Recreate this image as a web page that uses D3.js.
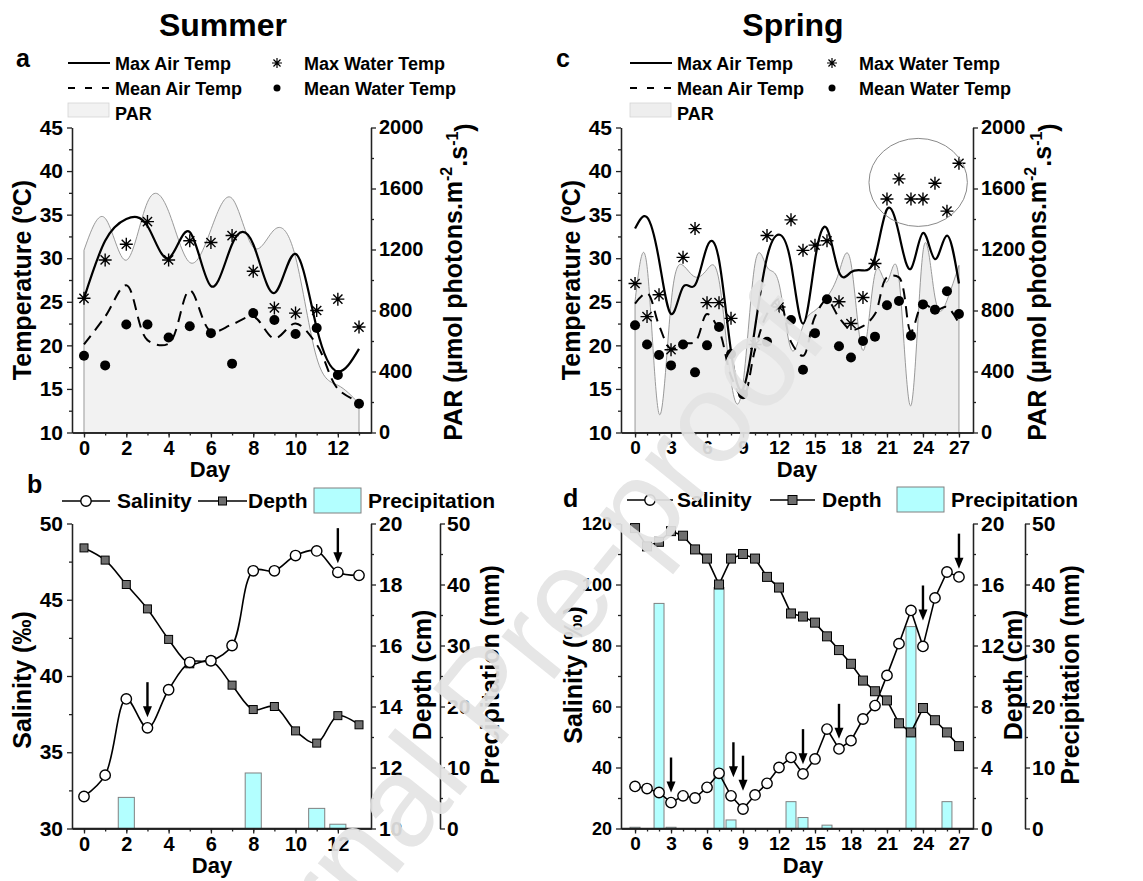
<!DOCTYPE html>
<html>
<head>
<meta charset="utf-8">
<script src="https://cdn.jsdelivr.net/npm/d3@7"></script>
<style>
  body { margin: 0; background: #fff; }
  svg text { font-family: "Liberation Sans", Arial, Helvetica, sans-serif; font-weight: bold; }
</style>
</head>
<body>
<svg id="chart" width="1143" height="881"></svg>
<script>
// ---- summer (panels a, b) ----
const summerDays = [0, 1, 2, 3, 4, 5, 6, 7, 8, 9, 10, 11, 12, 13];
const summerMaxAir = [25.4, 32.0, 34.5, 33.7, 30.0, 33.0, 26.8, 31.6, 31.6, 26.0, 30.5, 22.0, 17.0, 19.6];
const summerMeanAir = [20.1, 23.3, 26.9, 20.6, 20.2, 26.3, 21.6, 22.4, 23.3, 20.8, 22.5, 20.1, 15.0, 13.5];
const summerMaxWater = [25.4, 29.8, 31.6, 34.2, 29.8, 32.0, 31.8, 32.6, 28.5, 24.3, 23.7, 24.0, 25.3, 22.1];
const summerMeanWater = [18.8, 17.7, 22.4, 22.4, 20.9, 22.2, 21.4, 17.9, 23.7, 22.9, 21.3, 22.0, 16.6, 13.3];
const summerPAR = [1195, 1405, 1130, 1510, 1450, 1115, 1330, 1535, 1215, 1330, 1150, 490, 310, 190];
const summerSalinity = [32.1, 33.5, 38.5, 36.6, 39.1, 40.9, 41.0, 42.0, 46.9, 46.9, 47.9, 48.2, 46.8, 46.6];
const summerDepth = [19.2, 18.8, 18.0, 17.2, 16.2, 15.4, 15.5, 14.7, 13.9, 14.0, 13.2, 12.8, 13.7, 13.4];
const summerPrecip = [0, 0, 5.1, 0, 0, 0, 0, 0, 9.1, 0, 0, 3.3, 0.7, 0];
const summerArrowDays = [3, 12];
const summerArrowTips = [37.3, 47.4];
const summerDayTicks = [0, 2, 4, 6, 8, 10, 12];

// ---- spring (panels c, d) ----
const springDays = [0, 1, 2, 3, 4, 5, 6, 7, 8, 9, 10, 11, 12, 13, 14, 15, 16, 17, 18, 19, 20, 21, 22, 23, 24, 25, 26, 27];
const springMaxAir = [33.4, 34.7, 29.8, 23.6, 26.7, 26.9, 31.3, 29.8, 19.3, 15.0, 22.0, 30.1, 32.7, 29.4, 22.5, 29.8, 33.4, 28.4, 28.4, 28.6, 30.1, 35.6, 32.8, 28.8, 32.9, 29.9, 32.6, 27.1];
const springMeanAir = [24.8, 26.0, 22.3, 19.6, 20.2, 20.4, 23.6, 21.7, 16.5, 14.0, 19.5, 23.6, 25.3, 20.4, 18.8, 23.3, 25.2, 23.2, 21.8, 22.2, 23.6, 27.8, 27.8, 21.6, 24.8, 24.0, 24.4, 22.5];
const springMaxWater = [27.1, 23.3, 25.8, 19.5, 30.1, 33.4, 24.9, 24.9, 23.1, null, 20.1, 32.6, 24.4, 34.4, 30.9, 31.5, 32.0, 25.0, 22.5, 25.5, 29.4, 36.8, 39.1, 36.8, 36.8, 38.6, 35.4, 40.9];
const springMeanWater = [22.3, 20.1, 18.9, 17.7, 20.1, 16.9, 20.0, 22.1, 19.0, 14.4, null, 20.4, null, 22.9, 17.2, 21.4, 25.3, 19.9, 18.6, 20.5, 21.0, 24.6, 25.1, 21.1, 24.7, 24.1, 26.2, 23.6];
const springPAR = [860, 1090, 123, 845, 1096, 1020, 1068, 998, 341, 320, 1107, 1085, 976, 549, 700, 800, 888, 1050, 1110, 538, 1041, 987, 1009, 177, 1184, 888, 866, 1096];
const springSalinity = [33.8, 33.1, 31.8, 28.5, 30.7, 30.0, 33.5, 38.1, 30.7, 26.4, 31.0, 34.8, 40.0, 43.3, 37.9, 42.8, 52.6, 46.1, 48.8, 55.9, 60.3, 70.2, 80.6, 91.5, 79.7, 95.6, 104.1, 102.5];
const springDepth = [19.7, 18.5, 18.8, 19.5, 19.2, 18.3, 17.7, 16.0, 17.7, 18.0, 17.7, 16.5, 15.8, 14.1, 13.9, 13.5, 12.6, 11.7, 10.8, 9.7, 9.0, 8.4, 6.9, 6.3, 7.9, 7.1, 6.3, 5.4];
const springPrecip = [0.2, 0, 36.9, 0.2, 0, 0, 0, 39.5, 1.4, 0, 0, 0, 0, 4.4, 1.8, 0, 0.55, 0, 0, 0, 0, 0, 0, 33.1, 0, 0, 4.4, 0];
const springArrowDays = [3, 8.2, 9, 14, 17, 24, 27];
const springArrowTips = [31.8, 36.8, 32.4, 41.1, 49.4, 88.2, 105.2];
const springDayTicks = [0, 3, 6, 9, 12, 15, 18, 21, 24, 27];

// ---- shared axis ticks ----
const tempTicks = [10, 15, 20, 25, 30, 35, 40, 45];
const parTicks = [0, 400, 800, 1200, 1600, 2000];
const summerSalTicks = [30, 35, 40, 45, 50];
const summerDepthTicks = [10, 12, 14, 16, 18, 20];
const springSalTicks = [20, 40, 60, 80, 100, 120];
const springDepthTicks = [0, 4, 8, 12, 16, 20];
const precipTicks = [0, 10, 20, 30, 40, 50];

const FONT = '"Liberation Sans", Arial, Helvetica, sans-serif';
const svg = d3.select("#chart");

function halfSteps(ticks) {
  return ticks.slice(1).map((v, i) => (v + ticks[i]) / 2);
}

function styleAxis(g, fs) {
  g.selectAll(".domain").attr("stroke", "#222").attr("stroke-width", 1.3);
  g.selectAll(".tick line").attr("stroke", "#222").attr("stroke-width", 1.3);
  g.selectAll("text")
    .attr("font-size", fs)
    .attr("font-family", FONT)
    .attr("font-weight", "bold")
    .attr("fill", "#000");
}

function drawAxis(kind, scale, at, majors, minors, fs, pad) {
  const make = { left: d3.axisLeft, right: d3.axisRight, bottom: d3.axisBottom }[kind];
  const tr = kind === "bottom" ? `translate(0,${at})` : `translate(${at},0)`;
  if (minors) {
    svg.append("g")
      .attr("transform", tr)
      .call(make(scale).tickValues(minors).tickSize(3).tickSizeOuter(0).tickFormat(""))
      .call((g) => styleAxis(g, fs));
  }
  svg.append("g")
    .attr("transform", tr)
    .call(make(scale).tickValues(majors).tickSize(5).tickSizeOuter(0).tickPadding(pad).tickFormat(d3.format("d")))
    .call((g) => styleAxis(g, fs));
}

function vTitle(cx, cy, txt, fs) {
  return svg.append("text")
    .attr("transform", `translate(${cx},${cy}) rotate(-90)`)
    .attr("text-anchor", "middle")
    .attr("dy", "0.35em")
    .attr("font-size", fs)
    .text(txt);
}

function label(x, y, txt, fs, anchor) {
  return svg.append("text")
    .attr("x", x).attr("y", y)
    .attr("font-size", fs)
    .attr("text-anchor", anchor || "start")
    .text(txt);
}

function starPath(x, y, r) {
  const a = r * Math.SQRT1_2;
  return `M${x - r},${y}H${x + r}M${x},${y - r}V${y + r}` +
    `M${x - a},${y - a}L${x + a},${y + a}M${x - a},${y + a}L${x + a},${y - a}`;
}

function arrow(x, yTip) {
  svg.append("line")
    .attr("x1", x).attr("x2", x)
    .attr("y1", yTip - 35).attr("y2", yTip - 9)
    .attr("stroke", "#000").attr("stroke-width", 2.4);
  svg.append("path")
    .attr("d", `M${x - 4.5},${yTip - 11}L${x + 4.5},${yTip - 11}L${x},${yTip}Z`)
    .attr("fill", "#000");
}

// ---------- temperature / PAR panels ----------
const tempY = d3.scaleLinear().domain([10, 45]).range([432.5, 127.5]);
const parY = d3.scaleLinear().domain([0, 2000]).range([432.5, 127.5]);

function tempPanel(p) {
  const x = d3.scaleLinear().domain(p.xDomain).range(p.xRange);
  const days = p.days;

  // PAR shaded area
  const area = d3.area()
    .x((d, i) => x(days[i]))
    .y0(parY(0))
    .y1((d) => parY(d))
    .curve(d3.curveNatural);
  svg.append("path")
    .datum(p.par)
    .attr("d", area)
    .attr("fill", p.parFill)
    .attr("stroke", "#8e8e8e")
    .attr("stroke-width", 0.9);

  // axes
  drawAxis("left", tempY, p.xRange[0], tempTicks, halfSteps(tempTicks), 21, 4);
  drawAxis("right", parY, p.xRange[1], parTicks, halfSteps(parTicks), p.parFont, 3);
  drawAxis("bottom", x, 432.5, p.dayTicks, days, p.dayFont, 3);

  // max air temperature, smooth solid line
  svg.append("path")
    .datum(p.maxAir)
    .attr("d", d3.line().x((d, i) => x(days[i])).y((d) => tempY(d)).curve(d3.curveNatural))
    .attr("fill", "none")
    .attr("stroke", "#000")
    .attr("stroke-width", 2.2);

  // mean air temperature, dashed
  svg.append("path")
    .datum(p.meanAir)
    .attr("d", d3.line().x((d, i) => x(days[i])).y((d) => tempY(d)).curve(d3.curveCatmullRom))
    .attr("fill", "none")
    .attr("stroke", "#000")
    .attr("stroke-width", 2)
    .attr("stroke-dasharray", "11,7");

  // max water temperature, asterisks
  const stars = days.map((d, i) => ({ d, v: p.maxWater[i] })).filter((o) => o.v !== null);
  svg.append("g").selectAll("path").data(stars).join("path")
    .attr("d", (o) => starPath(x(o.d), tempY(o.v), 6.5))
    .attr("stroke", "#000")
    .attr("stroke-width", 1.4);

  // mean water temperature, dots
  const dots = days.map((d, i) => ({ d, v: p.meanWater[i] })).filter((o) => o.v !== null);
  svg.append("g").selectAll("circle").data(dots).join("circle")
    .attr("cx", (o) => x(o.d))
    .attr("cy", (o) => tempY(o.v))
    .attr("r", 5)
    .attr("fill", "#000");

  if (p.ellipse) {
    const e = p.ellipse;
    svg.append("ellipse")
      .attr("cx", x(e.day)).attr("cy", tempY(e.temp))
      .attr("rx", x(e.day + e.dDay) - x(e.day))
      .attr("ry", tempY(e.temp) - tempY(e.temp + e.dTemp))
      .attr("fill", "none")
      .attr("stroke", "#8a8a8a")
      .attr("stroke-width", 1);
  }

  // titles
  vTitle(p.xRange[0] - 50, 280, "Temperature (ºC)", 25);
  const pt = svg.append("text")
    .attr("transform", `translate(${p.parTitleX},282) rotate(-90)`)
    .attr("text-anchor", "middle")
    .attr("dy", "0.35em")
    .attr("font-size", 25);
  pt.append("tspan").text("PAR (µmol photons.m");
  pt.append("tspan").attr("font-size", 16).attr("dy", "-0.6em").text("-2");
  pt.append("tspan").attr("dy", "0.6em").text(".s");
  pt.append("tspan").attr("font-size", 16).attr("dy", "-0.6em").text("-1");
  pt.append("tspan").attr("dy", "0.6em").text(")");
  label(p.dayX, 477, "Day", 22, "middle");

  // legend
  const lx = p.legendX, sx = p.legendStarX;
  svg.append("line").attr("x1", lx).attr("x2", lx + 42).attr("y1", 63).attr("y2", 63)
    .attr("stroke", "#000").attr("stroke-width", 2);
  label(lx + 47, 70, "Max Air Temp", 18);
  svg.append("path").attr("d", starPath(sx, 63, 5)).attr("stroke", "#000").attr("stroke-width", 1.2);
  label(sx + 27, 70, "Max Water Temp", 18);
  svg.append("line").attr("x1", lx).attr("x2", lx + 42).attr("y1", 88).attr("y2", 88)
    .attr("stroke", "#000").attr("stroke-width", 2).attr("stroke-dasharray", "7,10");
  label(lx + 47, 95, "Mean Air Temp", 18);
  svg.append("circle").attr("cx", sx).attr("cy", 88).attr("r", 3.5).attr("fill", "#000");
  label(sx + 27, 95, "Mean Water Temp", 18);
  svg.append("rect").attr("x", lx).attr("y", 103).attr("width", 41).attr("height", 14)
    .attr("fill", p.parFill).attr("stroke", "#d4d4d4").attr("stroke-width", 0.8);
  label(lx + 47, 120, "PAR", 18);

  label(p.letterX, 67, p.letter, 25);
  label(p.titleX, 36, p.title, 32, "middle");
}

// ---------- salinity / depth / precipitation panels ----------
function salPanel(p) {
  const x = d3.scaleLinear().domain(p.xDomain).range(p.xRange);
  const days = p.days;
  const yS = d3.scaleLinear().domain(p.salDomain).range([828.5, 523.5]);
  const yD = d3.scaleLinear().domain(p.depthDomain).range([828.5, 523.5]);
  const yR = d3.scaleLinear().domain([0, 50]).range([828.5, 523.5]);
  const step = x(1) - x(0);
  const bw = step * p.barFrac;

  // precipitation bars
  const bars = days.map((d, i) => ({ d, v: p.precip[i] })).filter((o) => o.v > 0);
  svg.append("g").selectAll("rect").data(bars).join("rect")
    .attr("x", (o) => x(o.d) - bw / 2)
    .attr("width", bw)
    .attr("y", (o) => yR(o.v))
    .attr("height", (o) => yR(0) - yR(o.v))
    .attr("fill", "#b3ffff")
    .attr("stroke", "#808080")
    .attr("stroke-width", 1);

  // axes
  drawAxis("left", yS, p.xRange[0], p.salTicks, halfSteps(p.salTicks), p.salFont, 4);
  drawAxis("right", yD, p.xRange[1], p.depthTicks, halfSteps(p.depthTicks), 21, 3);
  drawAxis("right", yR, p.precipX, precipTicks, halfSteps(precipTicks), 21, 2);
  svg.append("line").attr("x1", p.xRange[0]).attr("x2", p.xRange[1])
    .attr("y1", 828.5).attr("y2", 828.5).attr("stroke", "#222").attr("stroke-width", 1.3);
  drawAxis("bottom", x, 828.5, p.dayTicks, days, p.dayFont, 3);

  // lines
  const lineS = d3.line().x((d, i) => x(days[i])).y((d) => yS(d)).curve(p.curve);
  const lineD = d3.line().x((d, i) => x(days[i])).y((d) => yD(d)).curve(p.curve);
  svg.append("path").datum(p.depth).attr("d", lineD)
    .attr("fill", "none").attr("stroke", "#000").attr("stroke-width", 1.6);
  svg.append("path").datum(p.salinity).attr("d", lineS)
    .attr("fill", "none").attr("stroke", "#000").attr("stroke-width", 1.6);

  // markers
  const sq = p.squareSize;
  svg.append("g").selectAll("rect").data(p.depth).join("rect")
    .attr("x", (d, i) => x(days[i]) - sq / 2)
    .attr("y", (d) => yD(d) - sq / 2)
    .attr("width", sq).attr("height", sq)
    .attr("fill", "#6e6e6e").attr("stroke", "#000").attr("stroke-width", 1);
  svg.append("g").selectAll("circle").data(p.salinity).join("circle")
    .attr("cx", (d, i) => x(days[i]))
    .attr("cy", (d) => yS(d))
    .attr("r", 5.2)
    .attr("fill", "#fff").attr("stroke", "#000").attr("stroke-width", 1.4);

  // arrows
  p.arrowDays.forEach((d, i) => arrow(x(d), yS(p.arrowTips[i])));

  // titles
  vTitle(p.salTitleX, p.salTitleY, "Salinity (‰)", 25);
  vTitle(p.depthTitleX, 675, "Depth (cm)", 25);
  vTitle(p.precipTitleX, 675, "Precipitation (mm)", 25);
  label(p.dayX, 873, "Day", 22, "middle");

  // legend
  const L = p.legend;
  svg.append("line").attr("x1", L.salX0).attr("x2", L.salX1).attr("y1", L.y).attr("y2", L.y)
    .attr("stroke", "#000").attr("stroke-width", 1.6);
  svg.append("circle").attr("cx", (L.salX0 + L.salX1) / 2).attr("cy", L.y).attr("r", 5.2)
    .attr("fill", "#fff").attr("stroke", "#000").attr("stroke-width", 1.4);
  label(L.salText, L.y + 7, "Salinity", 21);
  svg.append("line").attr("x1", L.depX0).attr("x2", L.depX1).attr("y1", L.y).attr("y2", L.y)
    .attr("stroke", "#000").attr("stroke-width", 1.6);
  svg.append("rect").attr("x", (L.depX0 + L.depX1) / 2 - sq / 2).attr("y", L.y - sq / 2)
    .attr("width", sq).attr("height", sq)
    .attr("fill", "#6e6e6e").attr("stroke", "#000").attr("stroke-width", 1);
  label(L.depText, L.y + 7, "Depth", 21);
  svg.append("rect").attr("x", L.boxX).attr("y", L.y - 13).attr("width", 47).attr("height", 25)
    .attr("fill", "#b3ffff").attr("stroke", "#808080").attr("stroke-width", 1);
  label(L.boxX + 54, L.y + 7, "Precipitation", 21);

  label(p.letterX, p.letterY, p.letter, 25);
}

tempPanel({
  days: summerDays, xDomain: [-0.567, 13.567], xRange: [72, 371],
  par: summerPAR, maxAir: summerMaxAir, meanAir: summerMeanAir,
  maxWater: summerMaxWater, meanWater: summerMeanWater,
  parFill: "#f2f2f2", parFont: 20, dayTicks: summerDayTicks, dayFont: 20,
  parTitleX: 453, dayX: 210, legendX: 68, legendStarX: 277,
  letter: "a", letterX: 16, title: "Summer", titleX: 223
});

tempPanel({
  days: springDays, xDomain: [-1.17, 28.17], xRange: [621, 973],
  par: springPAR, maxAir: springMaxAir, meanAir: springMeanAir,
  maxWater: springMaxWater, meanWater: springMeanWater,
  parFill: "#eeeeee", parFont: 20, dayTicks: springDayTicks, dayFont: 19,
  parTitleX: 1037, dayX: 797, legendX: 630, legendStarX: 832,
  letter: "c", letterX: 556, title: "Spring", titleX: 793,
  ellipse: { day: 23.6, temp: 38.7, dDay: 4.1, dTemp: 5.05 }
});

salPanel({
  days: summerDays, xDomain: [-0.567, 13.567], xRange: [72, 371], precipX: 440,
  salinity: summerSalinity, depth: summerDepth, precip: summerPrecip,
  salDomain: [30, 50], depthDomain: [10, 20], salTicks: summerSalTicks, depthTicks: summerDepthTicks,
  salFont: 21, dayTicks: summerDayTicks, dayFont: 20, barFrac: 0.76, squareSize: 8,
  curve: d3.curveCatmullRom, arrowDays: summerArrowDays, arrowTips: summerArrowTips,
  salTitleX: 22, salTitleY: 680, depthTitleX: 422, precipTitleX: 490, dayX: 212,
  legend: { y: 501, salX0: 62, salX1: 110, salText: 117, depX0: 198, depX1: 247, depText: 248, boxX: 314 },
  letter: "b", letterX: 27, letterY: 493
});

salPanel({
  days: springDays, xDomain: [-1.17, 28.17], xRange: [621, 973], precipX: 1025,
  salinity: springSalinity, depth: springDepth, precip: springPrecip,
  salDomain: [20, 120], depthDomain: [0, 20], salTicks: springSalTicks, depthTicks: springDepthTicks,
  salFont: 18, dayTicks: springDayTicks, dayFont: 19, barFrac: 0.83, squareSize: 9,
  curve: d3.curveLinear, arrowDays: springArrowDays, arrowTips: springArrowTips,
  salTitleX: 573, salTitleY: 675, depthTitleX: 1013, precipTitleX: 1070, dayX: 803,
  legend: { y: 500, salX0: 627, salX1: 673, salText: 677, depX0: 770, depX1: 815, depText: 822, boxX: 897 },
  letter: "d", letterX: 563, letterY: 507
});

// "Journal Pre-proof" watermark on top
svg.append("text")
  .attr("transform", "translate(490,698) rotate(-51)")
  .attr("y", 38)
  .attr("text-anchor", "middle")
  .attr("font-size", 128)
  .style("font-weight", "normal")
  .attr("fill", "#e4e4e4")
  .attr("opacity", 0.92)
  .text("Journal Pre-proof");
</script>
</body>
</html>
